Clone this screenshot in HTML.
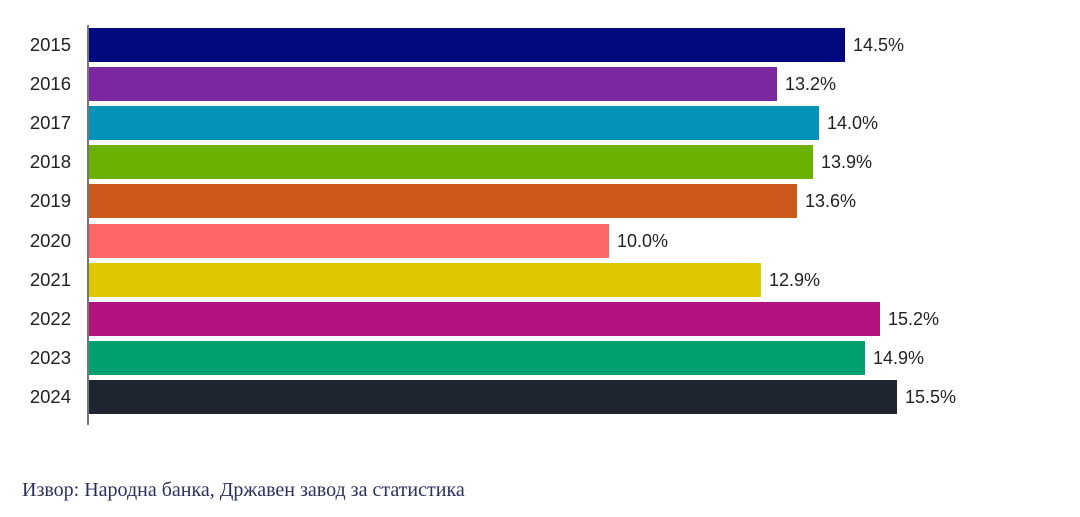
<!DOCTYPE html>
<html><head><meta charset="utf-8"><style>
body{margin:0;width:1080px;height:517px;background:#fff;position:relative;overflow:hidden;font-family:"Liberation Sans",sans-serif}
.y{position:absolute;left:0;width:71px;text-align:right;font-size:18.5px;color:#222;line-height:34px}
.b{position:absolute;left:89px;height:34px}
.v{position:absolute;font-size:18px;color:#222;line-height:34px}
</style></head><body>
<div style="position:absolute;left:87px;top:25px;width:1.5px;height:400px;background:#777"></div>
<div id="c"></div>
<div style="position:absolute;left:22px;top:479px;font-family:'Liberation Serif',serif;font-size:20px;color:#2b2f5c">Извор: Народна банка, Државен завод за статистика</div>
<script>
var d=[["2015",845,"#02097e","14.5%"],["2016",777,"#7b28a0","13.2%"],["2017",819,"#0492b8","14.0%"],["2018",813,"#6ab100","13.9%"],["2019",797,"#cd581b","13.6%"],["2020",609,"#ff6666","10.0%"],["2021",761,"#e0c800","12.9%"],["2022",880,"#b3127f","15.2%"],["2023",865,"#00a070","14.9%"],["2024",897,"#1e2530","15.5%"]];
var h="";d.forEach(function(r,i){var t=28+i*39.1;
h+='<div class="y" style="top:'+t+'px">'+r[0]+'</div><div class="b" style="top:'+t+'px;width:'+(r[1]-89)+'px;background:'+r[2]+'"></div><div class="v" style="top:'+t+'px;left:'+(r[1]+8)+'px">'+r[3]+'</div>';});
document.getElementById("c").innerHTML=h;
</script>
</body></html>
